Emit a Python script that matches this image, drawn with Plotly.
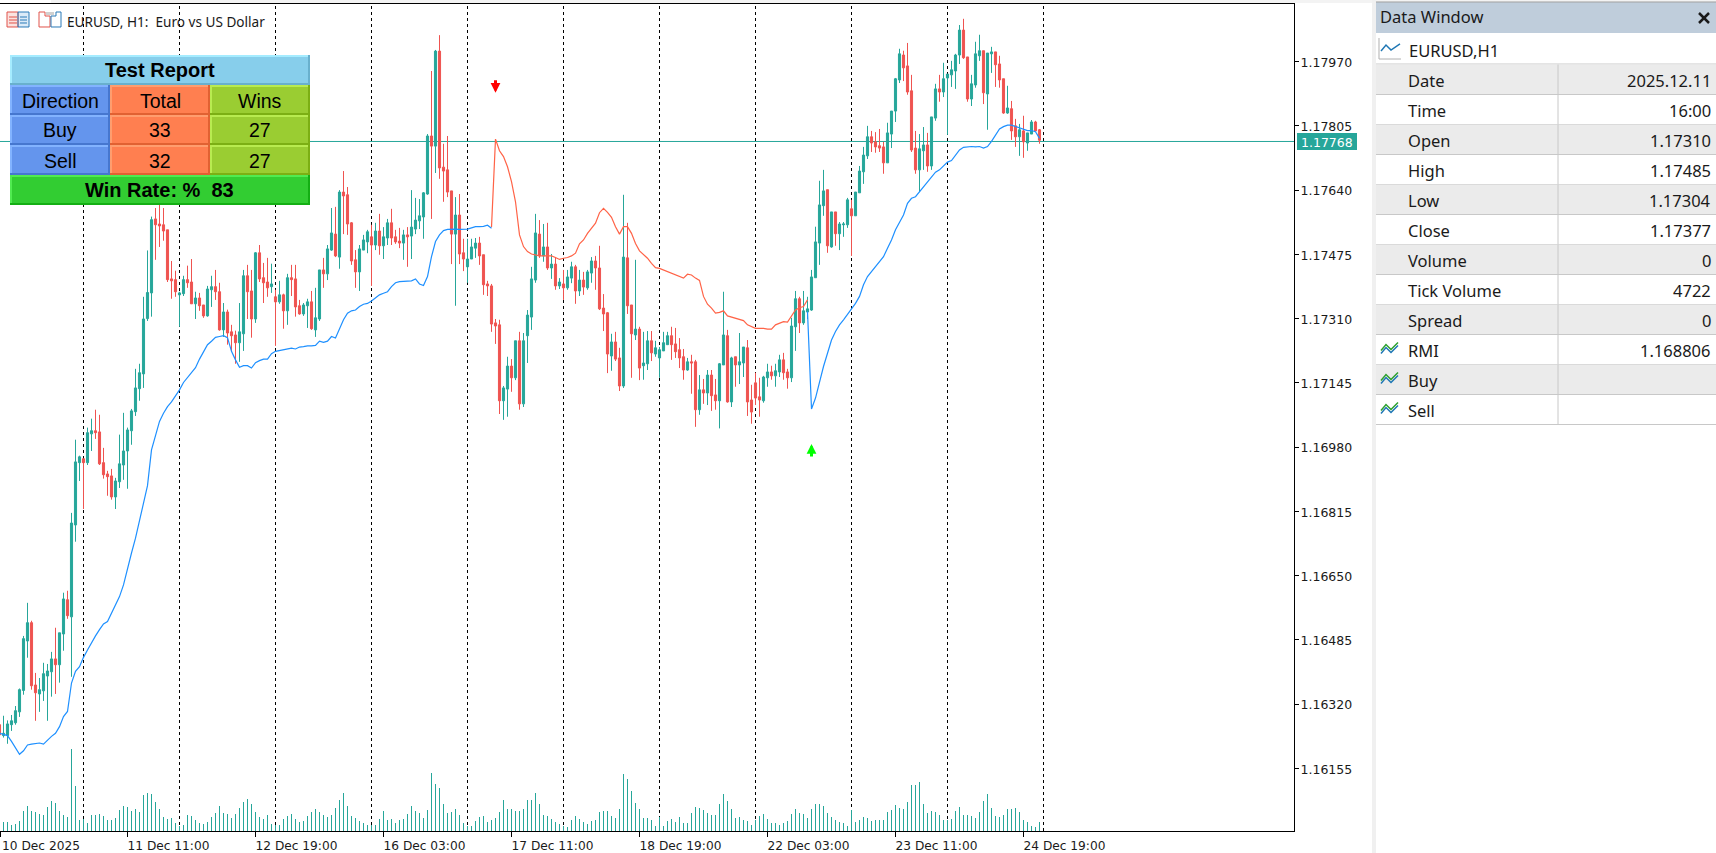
import plotly.graph_objects as go

W = 1716
H = 853

# prices are in points (1e-5), one value per H1 bar
opens = [
    116267, 116239, 116239, 116267, 116272, 116300, 116355, 116482, 116529, 116369,
    116346, 116354, 116392, 116403, 116436, 116421, 116500, 116588, 116544, 116780,
    116940, 116950, 116940, 117014, 117022, 117019, 116940, 116911, 116906, 116852,
    116891, 116934, 116970, 117022, 117071, 117130, 117168, 117310, 117376, 117566,
    117553, 117551, 117538, 117412, 117410, 117371, 117374, 117410, 117404, 117348,
    117363, 117345, 117317, 117384, 117392, 117379, 117281, 117327, 117276, 117268,
    117248, 117271, 117420, 117381, 117309, 117479, 117415, 117404, 117392, 117366,
    117353, 117371, 117330, 117415, 117412, 117343, 117322, 117343, 117353, 117281,
    117309, 117435, 117425, 117486, 117527, 117468, 117635, 117628, 117556, 117461,
    117430, 117486, 117507, 117520, 117499, 117535, 117497, 117517, 117556, 117520,
    117509, 117504, 117525, 117522, 117540, 117561, 117571, 117630, 117779, 117753,
    117997, 117699, 117692, 117638, 117527, 117576, 117479, 117443, 117463, 117491,
    117504, 117474, 117399, 117394, 117299, 117294, 117099, 117129, 117188, 117158,
    117253, 117091, 117266, 117314, 117409, 117527, 117471, 117494, 117440, 117450,
    117394, 117399, 117389, 117414, 117443, 117381, 117409, 117389, 117427, 117458,
    117440, 117337, 117325, 117214, 117250, 117209, 117137, 117466, 117345, 117268,
    117283, 117189, 117194, 117253, 117219, 117209, 117227, 117243, 117266, 117245,
    117230, 117212, 117178, 117199, 117199, 117076, 117127, 117119, 117165, 117114,
    117099, 117191, 117266, 117096, 117212, 117191, 117196, 117235, 117101, 117145,
    117109, 117099, 117158, 117173, 117163, 117173, 117204, 117173, 117158, 117289,
    117361, 117299, 117327, 117332, 117415, 117504, 117600, 117641, 117494, 117584,
    117528, 117551, 117551, 117592, 117574, 117633, 117687, 117728, 117777, 117764,
    117754, 117751, 117710, 117784, 117843, 117923, 117987, 117959, 117895, 117748,
    117692, 117741, 117756, 117702, 117825, 117900, 117892, 117928, 117936, 117946,
    117987, 118051, 117982, 117874, 117910, 117985, 117998, 117887, 117990, 117995,
    117964, 117926, 117838, 117849, 117805, 117777, 117792, 117761, 117784, 117815,
    117795,
]
highs = [
    116275, 116290, 116278, 116292, 116315, 116360, 116495, 116580, 116534, 116400,
    116387, 116426, 116423, 116454, 116516, 116503, 116606, 116611, 116811, 116999,
    116958, 116950, 117030, 117053, 117076, 117063, 116978, 116919, 116924, 116901,
    117012, 117068, 117030, 117078, 117181, 117194, 117366, 117485, 117572, 117594,
    117632, 117594, 117538, 117458, 117433, 117379, 117420, 117446, 117463, 117379,
    117376, 117345, 117394, 117420, 117435, 117402, 117350, 117333, 117294, 117279,
    117350, 117435, 117448, 117435, 117481, 117499, 117453, 117466, 117451, 117384,
    117407, 117374, 117425, 117448, 117448, 117358, 117350, 117361, 117381, 117389,
    117435, 117466, 117499, 117594, 117597, 117640, 117689, 117648, 117558, 117486,
    117499, 117525, 117538, 117551, 117556, 117579, 117545, 117566, 117592, 117538,
    117543, 117538, 117545, 117640, 117620, 117617, 117635, 117784, 117946, 118000,
    118038, 117759, 117779, 117638, 117622, 117630, 117515, 117515, 117515, 117517,
    117520, 117474, 117407, 117399, 117309, 117307, 117137, 117212, 117206, 117253,
    117276, 117273, 117332, 117443, 117579, 117563, 117553, 117556, 117476, 117466,
    117414, 117435, 117435, 117456, 117448, 117435, 117430, 117435, 117468, 117471,
    117497, 117373, 117327, 117271, 117276, 117235, 117628, 117556, 117345, 117461,
    117289, 117276, 117278, 117278, 117253, 117237, 117276, 117276, 117289, 117286,
    117260, 117232, 117209, 117217, 117204, 117165, 117155, 117178, 117178, 117155,
    117196, 117379, 117281, 117212, 117212, 117273, 117237, 117255, 117140, 117171,
    117158, 117163, 117194, 117189, 117194, 117217, 117222, 117181, 117312, 117381,
    117366, 117381, 117366, 117435, 117546, 117664, 117692, 117641, 117584, 117584,
    117558, 117558, 117620, 117615, 117635, 117702, 117751, 117805, 117792, 117789,
    117797, 117764, 117813, 117843, 117928, 118003, 117998, 118018, 117936, 117792,
    117784, 117802, 117787, 117828, 117913, 117936, 117967, 117938, 117972, 117990,
    118064, 118080, 117982, 117936, 118021, 118039, 117998, 117992, 118008, 117995,
    117985, 117926, 117908, 117869, 117823, 117810, 117831, 117787, 117820, 117818,
    117797,
]
lows = [
    116235, 116234, 116218, 116251, 116267, 116287, 116344, 116439, 116357, 116277,
    116300, 116328, 116277, 116339, 116346, 116375, 116457, 116539, 116390, 116737,
    116893, 116821, 116934, 116970, 117001, 116934, 116899, 116855, 116845, 116821,
    116875, 116896, 116873, 116986, 117060, 117099, 117132, 117304, 117315, 117461,
    117494, 117510, 117404, 117361, 117366, 117289, 117368, 117389, 117348, 117309,
    117330, 117312, 117315, 117340, 117358, 117279, 117263, 117243, 117225, 117194,
    117199, 117227, 117309, 117261, 117299, 117404, 117350, 117366, 117376, 117240,
    117348, 117284, 117294, 117368, 117315, 117320, 117317, 117286, 117281, 117263,
    117304, 117389, 117409, 117484, 117468, 117438, 117527, 117525, 117448, 117389,
    117381, 117486, 117478, 117394, 117486, 117474, 117463, 117499, 117499, 117502,
    117491, 117461, 117443, 117463, 117527, 117540, 117515, 117628, 117566, 117684,
    117669, 117610, 117622, 117450, 117343, 117450, 117432, 117402, 117463, 117466,
    117448, 117371, 117368, 117276, 117245, 117065, 117050, 117058, 117122, 117152,
    117076, 117083, 117196, 117281, 117402, 117466, 117456, 117435, 117412, 117384,
    117386, 117358, 117384, 117401, 117348, 117368, 117371, 117384, 117402, 117384,
    117332, 117278, 117170, 117176, 117201, 117124, 117132, 117322, 117158, 117255,
    117152, 117153, 117178, 117201, 117212, 117158, 117227, 117243, 117204, 117209,
    117183, 117153, 117176, 117117, 117032, 117063, 117091, 117088, 117073, 117076,
    117028, 117191, 117094, 117083, 117135, 117142, 117160, 117060, 117040, 117088,
    117058, 117094, 117135, 117153, 117135, 117160, 117153, 117130, 117147, 117227,
    117273, 117294, 117309, 117330, 117415, 117448, 117574, 117479, 117492, 117497,
    117486, 117520, 117543, 117471, 117574, 117633, 117656, 117720, 117738, 117736,
    117738, 117682, 117710, 117748, 117815, 117915, 117920, 117885, 117738, 117682,
    117635, 117692, 117687, 117692, 117818, 117867, 117879, 117782, 117905, 117900,
    117964, 117977, 117867, 117856, 117903, 117972, 117861, 117795, 117941, 117905,
    117903, 117836, 117836, 117769, 117751, 117728, 117723, 117741, 117784, 117792,
    117759,
]
closes = [
    116241, 116245, 116269, 116277, 116303, 116357, 116488, 116529, 116367, 116349,
    116357, 116398, 116405, 116436, 116421, 116503, 116590, 116547, 116785, 116942,
    116955, 116940, 117017, 117022, 117017, 116937, 116909, 116904, 116852, 116893,
    116937, 116970, 117024, 117073, 117132, 117171, 117309, 117377, 117564, 117551,
    117548, 117535, 117410, 117407, 117379, 117376, 117410, 117402, 117348, 117363,
    117343, 117317, 117386, 117392, 117379, 117281, 117327, 117273, 117266, 117248,
    117276, 117420, 117379, 117309, 117479, 117412, 117402, 117389, 117399, 117353,
    117371, 117330, 117415, 117410, 117340, 117322, 117345, 117353, 117284, 117312,
    117435, 117425, 117489, 117530, 117471, 117635, 117625, 117553, 117458, 117430,
    117489, 117512, 117533, 117499, 117535, 117497, 117520, 117556, 117517, 117507,
    117504, 117525, 117520, 117545, 117563, 117574, 117633, 117779, 117753, 117997,
    117697, 117689, 117635, 117527, 117576, 117476, 117463, 117463, 117494, 117504,
    117471, 117397, 117394, 117296, 117291, 117099, 117132, 117188, 117158, 117253,
    117091, 117253, 117319, 117412, 117530, 117471, 117494, 117440, 117450, 117394,
    117404, 117389, 117417, 117443, 117381, 117409, 117391, 117430, 117458, 117440,
    117335, 117322, 117219, 117250, 117206, 117137, 117468, 117343, 117271, 117283,
    117183, 117196, 117253, 117222, 117235, 117230, 117248, 117266, 117243, 117225,
    117209, 117178, 117199, 117196, 117076, 117127, 117119, 117165, 117112, 117099,
    117194, 117268, 117096, 117209, 117191, 117199, 117237, 117096, 117070, 117106,
    117101, 117160, 117173, 117163, 117176, 117204, 117171, 117158, 117291, 117361,
    117299, 117330, 117335, 117417, 117507, 117602, 117638, 117497, 117584, 117528,
    117553, 117553, 117615, 117574, 117635, 117689, 117730, 117777, 117761, 117751,
    117748, 117710, 117787, 117843, 117926, 117990, 117954, 117892, 117743, 117692,
    117746, 117756, 117702, 117828, 117900, 117892, 117926, 117938, 117949, 117987,
    118051, 117980, 117874, 117913, 117990, 117998, 117890, 117992, 117995, 117962,
    117923, 117838, 117851, 117792, 117777, 117795, 117764, 117787, 117815, 117792,
    117768,
]
tick_volume = [
    1125, 1125, 1125, 750, 875, 1250, 2500, 3125, 2500, 2375,
    2125, 2000, 3000, 3750, 3500, 2500, 2000, 1750, 10250, 5625,
    1375, 1500, 1000, 2000, 2000, 2125, 1875, 1375, 1375, 1625,
    2625, 3125, 3000, 2500, 2750, 2375, 4500, 4722, 4625, 3625,
    2750, 1750, 1500, 1625, 1000, 625, 750, 2000, 1875, 1375,
    1000, 875, 1125, 1750, 2250, 3125, 2250, 2125, 1625, 2125,
    2875, 3625, 4000, 3375, 2375, 1750, 1500, 2000, 875, 750,
    750, 1500, 1875, 2125, 1500, 1125, 1250, 1875, 2375, 2750,
    2375, 2000, 1750, 2000, 2875, 3875, 4750, 3125, 1875, 1625,
    1250, 1000, 750, 750, 750, 1500, 2500, 1375, 1500, 1000,
    1375, 1500, 2125, 3125, 2500, 2250, 1625, 2625, 7250, 5875,
    5375, 3375, 2250, 2375, 2750, 2000, 1000, 625, 625, 1250,
    1750, 1875, 1125, 1375, 1625, 2375, 3875, 2750, 2750, 2500,
    2500, 2750, 3875, 3875, 4750, 3375, 2000, 1875, 1500, 1125,
    875, 625, 500, 1375, 1875, 1500, 1125, 875, 1250, 1375,
    2375, 2500, 2500, 1875, 1625, 2750, 7125, 6500, 5000, 3500,
    2750, 1625, 1625, 1375, 625, 1750, 625, 1250, 1500, 1125,
    1750, 1000, 1000, 2250, 3000, 2875, 2625, 2250, 2000, 2000,
    3375, 4625, 3750, 2750, 1625, 1750, 1375, 1250, 750, 1375,
    1875, 2125, 1500, 1000, 1000, 750, 1000, 1250, 2125, 2750,
    2250, 2125, 1625, 2750, 3375, 3375, 3125, 2250, 1750, 1375,
    1125, 1000, 625, 2625, 1125, 1375, 1750, 1625, 1250, 1375,
    1375, 1375, 2375, 2625, 3250, 2875, 2750, 3625, 5750, 5750,
    6125, 3375, 2250, 2500, 2375, 2000, 1375, 1375, 1500, 2500,
    3000, 2000, 2000, 1875, 1625, 2375, 3750, 4625, 2875, 1875,
    1750, 2000, 2750, 2750, 2875, 2375, 1375, 1125, 625, 500,
    1125,
]

# the indicator switches colour, so it is kept in three runs
rmi_blue_start = [
    116245, 116242, 116239, 116224, 116207, 116191, 116200, 116215, 116217, 116218,
    116220, 116217, 116228, 116237, 116245, 116262, 116288, 116301, 116374, 116404,
    116416, 116440, 116459, 116478, 116495, 116511, 116526, 116532, 116552, 116575,
    116596, 116626, 116669, 116708, 116746, 116789, 116836, 116881, 116973, 117007,
    117046, 117067, 117084, 117096, 117110, 117127, 117146, 117159, 117172, 117184,
    117206, 117226, 117243, 117252, 117262, 117264, 117266, 117261, 117226, 117204,
    117185, 117189, 117189, 117183, 117197, 117202, 117206, 117206, 117220, 117226,
    117228, 117231, 117233, 117234, 117232, 117237, 117238, 117240, 117240, 117241,
    117252, 117249, 117252, 117264, 117260, 117285, 117307, 117324, 117330, 117332,
    117341, 117347, 117349, 117355, 117364, 117371, 117375, 117379, 117392, 117402,
    117405, 117406, 117406, 117407, 117412, 117399, 117395, 117418, 117469, 117508,
    117525, 117536, 117539, 117540, 117540, 117539, 117539, 117540, 117543, 117546,
    117546, 117547, 117550, 117542,
]
rmi_red = [
    117545, 117771, 117741, 117726, 117700, 117662, 117610, 117525, 117495, 117482,
    117476, 117474, 117471, 117471, 117471, 117471, 117467, 117462, 117465, 117467,
    117471, 117478, 117502, 117512, 117529, 117542, 117555, 117582, 117593, 117583,
    117570, 117546, 117527, 117546, 117546, 117529, 117503, 117484, 117475, 117465,
    117452, 117441, 117439, 117435, 117431, 117427, 117421, 117418, 117414, 117424,
    117422, 117414, 117408, 117367, 117347, 117337, 117324, 117326, 117330, 117317,
    117314, 117309, 117307, 117305, 117294, 117290, 117285, 117285, 117285, 117283,
    117283, 117294, 117298, 117302, 117301, 117315, 117332, 117338, 117341, 117358,
]
rmi_blue_end = [
    117328, 117078, 117106, 117148, 117187, 117221, 117255, 117277, 117294, 117307,
    117320, 117335, 117349, 117367, 117397, 117418, 117431, 117445, 117456, 117469,
    117491, 117512, 117538, 117559, 117576, 117606, 117619, 117623, 117636, 117649,
    117662, 117675, 117686, 117692, 117702, 117712, 117716, 117730, 117743, 117750,
    117751, 117752, 117751, 117752, 117748, 117752, 117765, 117782, 117797, 117803,
    117807, 117807, 117803, 117801, 117796, 117793, 117793, 117790, 117773,
]
red_start_bar = 123
blue_end_start_bar = 202

sell_arrow_bar = 124
sell_arrow_price = 117890
buy_arrow_bar = 203
buy_arrow_price = 116988

last_price_label = "1.17768"
last_price_line = 1.177649
separator_bars = [21, 45, 69, 93, 117, 141, 165, 189, 213, 237, 261]
price_ticks = [1.17970, 1.17805, 1.17640, 1.17475, 1.17310, 1.17145, 1.16980, 1.16815, 1.16650, 1.16485, 1.16320, 1.16155]
time_tick_bars = [0.13, 32, 64, 96, 128, 160, 192, 224, 256]
time_tick_labels = ["10 Dec 2025", "11 Dec 11:00", "12 Dec 19:00", "16 Dec 03:00", "17 Dec 11:00",
                    "18 Dec 19:00", "22 Dec 03:00", "23 Dec 11:00", "24 Dec 19:00"]

report_rows = [["Direction", "Total", "Wins"], ["Buy", "33", "27"], ["Sell", "32", "27"]]
data_names = ["Date", "Time", "Open", "High", "Low", "Close", "Volume", "Tick Volume", "Spread", "RMI", "Buy", "Sell"]
data_values = ["2025.12.11", "16:00", "1.17310", "1.17485", "1.17304", "1.17377", "0", "4722", "0", "1.168806", "", ""]


def pts(values):
    return [v / 100000 for v in values]


def fx(x):
    return x / W


def fy(y):
    return 1 - y / H


def panel_path(points):
    return "M " + " L ".join(f"{fx(x):.5f},{fy(y):.5f}" for x, y in points)


bars = list(range(len(opens)))
assert len(opens) == len(highs) == len(lows) == len(closes) == len(tick_volume)

fig = go.Figure()

fig.add_trace(go.Bar(x=bars, y=tick_volume, yaxis="y2", width=0.24,
                     marker=dict(color="#26A69A", line=dict(width=0)), hoverinfo="skip"))
fig.add_trace(go.Candlestick(
    x=bars, open=pts(opens), high=pts(highs), low=pts(lows), close=pts(closes),
    increasing=dict(line=dict(color="#26A69A", width=1), fillcolor="#26A69A"),
    decreasing=dict(line=dict(color="#EF5350", width=1), fillcolor="#EF5350"),
    whiskerwidth=0,
))
fig.add_trace(go.Scatter(x=bars[:len(rmi_blue_start)], y=pts(rmi_blue_start), mode="lines",
                         line=dict(color="#1E90FF", width=1.2)))
fig.add_trace(go.Scatter(x=[red_start_bar + k for k in range(len(rmi_red))], y=pts(rmi_red), mode="lines",
                         line=dict(color="#FF6347", width=1.2)))
fig.add_trace(go.Scatter(x=[blue_end_start_bar + k for k in range(len(rmi_blue_end))], y=pts(rmi_blue_end), mode="lines",
                         line=dict(color="#1E90FF", width=1.2)))

shapes = []
annotations = []


def rect(x0, y0, x1, y1, fill, layer="above"):
    shapes.append(dict(type="rect", xref="paper", yref="paper", x0=fx(x0), x1=fx(x1), y0=fy(y1), y1=fy(y0),
                       fillcolor=fill, line=dict(width=0), layer=layer))


def poly(points, color, width=1):
    shapes.append(dict(type="path", xref="paper", yref="paper", path=panel_path(points),
                       line=dict(color=color, width=width), layer="above"))


def text(x, y, s, size, color="#000000", anchor="center", font="Liberation Sans", bold=False):
    annotations.append(dict(xref="paper", yref="paper", x=fx(x), y=fy(y), text=f"<b>{s}</b>" if bold else s,
                            showarrow=False, xanchor=anchor, yanchor="middle",
                            font=dict(family=font, size=size, color=color)))


def bevel(x0, y0, x1, y1, fill, light, dark):
    rect(x0, y0, x1, y1, fill)
    rect(x0, y0, x1, y0 + 2, light)
    rect(x0, y0, x0 + 2, y1, light)
    rect(x0, y1 - 2, x1, y1, dark)
    rect(x1 - 2, y0, x1, y1, dark)


# buy and sell arrows
annotations.append(dict(x=sell_arrow_bar, y=sell_arrow_price / 100000, xref="x", yref="y", text="", showarrow=True,
                        ax=0, ay=-14, arrowhead=2, arrowsize=0.65, arrowwidth=3, arrowcolor="#FF0000"))
annotations.append(dict(x=buy_arrow_bar, y=buy_arrow_price / 100000, xref="x", yref="y", text="", showarrow=True,
                        ax=0, ay=14, arrowhead=2, arrowsize=0.65, arrowwidth=3, arrowcolor="#00FF00"))

# period separators and the last price line
for b in separator_bars:
    shapes.append(dict(type="line", xref="x", yref="paper", x0=b, x1=b, y0=fy(831), y1=fy(4),
                       line=dict(color="#000000", width=1, dash="3px,3px"), layer="below"))
shapes.append(dict(type="line", xref="paper", yref="y", x0=0, x1=fx(1294), y0=last_price_line, y1=last_price_line,
                   line=dict(color="#26A69A", width=1), layer="below"))

# strip of the terminal above the chart
rect(51, 0, 1716, 3, "#F3F3F3")

# report panel
bevel(10, 55, 310, 85, "#87CEEB", "#A5ECFF", "#69B0CD")
text(160, 70, "Test Report", 20, bold=True)
col_x = [10, 110, 210, 310]
row_y = [85, 115, 145, 175]
col_fill = [("#6495ED", "#82B3FF", "#4677CF"), ("#FF7F50", "#FF9D6E", "#E16132"), ("#9ACD32", "#B8EB50", "#7CAF14")]
for r, row in enumerate(report_rows):
    for c, s in enumerate(row):
        bevel(col_x[c], row_y[r], col_x[c + 1], row_y[r + 1], *col_fill[c])
        text((col_x[c] + col_x[c + 1]) / 2, (row_y[r] + row_y[r + 1]) / 2 + 0.5, s, 19.5)
bevel(10, 175, 310, 205, "#32CD32", "#50EB50", "#14AF14")
text(159, 190, "Win Rate: %  83", 20, bold=True)

# chart title and its two small icons
rect(7, 12, 18, 27, "#FBE3E0")
rect(18, 12, 29, 27, "#DCEBF8")
poly([(7, 12), (18, 12), (18, 27), (7, 27), (7, 12)], "#E0524A")
poly([(18, 12), (29, 12), (29, 27), (18, 27), (18, 12)], "#2A7AB8")
for y in (17, 20, 23):
    poly([(9, y), (17, y)], "#E0524A")
    poly([(20, y), (27, y)], "#2A7AB8")
poly([(39, 12), (45, 12), (45, 16), (50, 16), (50, 27), (39, 27), (39, 12)], "#E0524A")
poly([(51, 27), (51, 16), (56, 16), (56, 12), (61, 12), (61, 27), (51, 27)], "#2A7AB8")
rect(46, 12, 54, 15, "#D0D0D0")
text(65, 21, "EURUSD, H1:  Euro vs US Dollar", 13.6, color="#1A1A1A", anchor="left", font="Noto Sans")

# last price label on the scale
rect(1297, 133, 1357, 150, "#26A69A")
text(1327, 142, last_price_label, 12.5, color="#FFFFFF", font="DejaVu Sans")

# data window
rect(1372, 0, 1376, 853, "#F0F0F0")
rect(1376, 2, 1716, 33, "#BFCDDB")
poly([(1376, 2), (1716, 2)], "#A0A0A0")
text(1378, 17, "Data Window", 16.5, color="#1A1A1A", anchor="left", font="Noto Sans")
poly([(1699, 13), (1709, 23)], "#1A1A1A", 2.5)
poly([(1709, 13), (1699, 23)], "#1A1A1A", 2.5)
text(1407, 50.5, "EURUSD,H1", 16.5, color="#1A1A1A", anchor="left", font="Noto Sans")
poly([(1379, 38), (1379, 59), (1401, 59)], "#B0B0B0")
poly([(1381, 51), (1386, 45), (1391, 50), (1400, 44)], "#1F77B4", 1.5)
poly([(1376, 64), (1716, 64)], "#C8C8C8")
for k, name in enumerate(data_names):
    top = 64.5 + 30 * k
    if k % 2 == 0:
        rect(1376, top, 1716, top + 30, "#EBEBEB")
    poly([(1376, top + 30), (1716, top + 30)], "#C8C8C8")
    poly([(1558, top), (1558, top + 30)], "#C8C8C8")
    text(1406, top + 16, name, 16.5, color="#1A1A1A", anchor="left", font="Noto Sans")
    if data_values[k]:
        text(1713, top + 16, data_values[k], 16.5, color="#1A1A1A", anchor="right", font="Noto Sans")
    if name in ("RMI", "Buy", "Sell"):
        cy = top + 15
        poly([(1381, cy + 4), (1386, cy - 2), (1391, cy + 3), (1398, cy - 4)], "#1F77B4", 1.5)
        poly([(1381, cy + 1), (1386, cy - 5), (1391, cy), (1398, cy - 7)], "#2CA02C", 1.5)

fig.update_layout(
    width=W,
    height=H,
    margin=dict(l=0, r=0, t=0, b=0),
    paper_bgcolor="#FFFFFF",
    plot_bgcolor="#FFFFFF",
    showlegend=False,
    bargap=0,
    boxgap=0.25,
    shapes=shapes,
    annotations=annotations,
    xaxis=dict(
        domain=[0, 1294 / W],
        range=[0.125, 323.625],
        rangeslider=dict(visible=False),
        showgrid=False,
        zeroline=False,
        showline=True,
        linecolor="#000000",
        linewidth=1,
        mirror=True,
        tickmode="array",
        tickvals=time_tick_bars,
        ticktext=time_tick_labels,
        ticks="outside",
        ticklen=5,
        tickcolor="#000000",
        ticklabelshift=41,
        ticklabelstandoff=-2,
        tickfont=dict(family="DejaVu Sans", size=12.2, color="#1A1A1A"),
    ),
    yaxis=dict(
        domain=[22 / H, 849 / H],
        range=[1.15994, 1.18118],
        side="right",
        showgrid=False,
        zeroline=False,
        showline=True,
        linecolor="#000000",
        linewidth=1,
        tickmode="array",
        tickvals=price_ticks,
        ticktext=[f"{p:.5f}" for p in price_ticks],
        ticks="outside",
        ticklen=4,
        tickcolor="#000000",
        ticklabelshift=1,
        ticklabelstandoff=-1,
        tickfont=dict(family="DejaVu Sans", size=12.5, color="#1A1A1A"),
    ),
    yaxis2=dict(overlaying="y", range=[0, 827 * 125], visible=False),
)

fig.write_html("out.html", config=dict(displayModeBar=False),
               post_script="document.body.style.margin='0';document.body.style.overflow='hidden';")
